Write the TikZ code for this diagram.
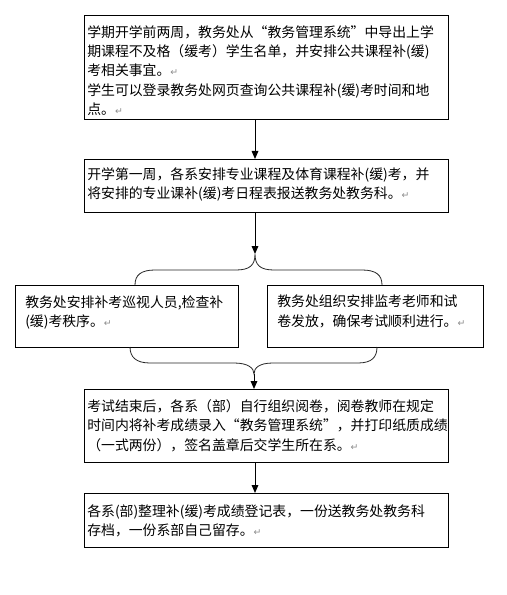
\documentclass[tikz,border=0pt]{standalone}
\usepackage{fontspec}
\usetikzlibrary{arrows.meta}
\newfontfamily\cjk{Noto Sans CJK SC}
\newfontfamily\djv{DejaVu Sans}
\newcommand\pmk{{\djv\fontsize{7}{7}\selectfont\textcolor{black!45}{↵}}}
\begin{document}
\begin{tikzpicture}[x=0.75pt,y=-0.75pt,
  boxn/.style={draw=black,line width=0.75pt,rectangle,inner sep=0pt,anchor=north west},
  txt/.style={anchor=north west,inner sep=0pt,align=left,font=\cjk\fontsize{10.4}{14.6}\selectfont},
  arr/.style={line width=0.75pt,-{Triangle[length=6pt,width=5pt]}},
  brace/.style={line width=0.6pt,draw=black!85}]
\useasboundingbox (0,0) rectangle (506,595);
\fill[white] (0,0) rectangle (506,595);
% boxes
\node[boxn,minimum width=364*0.75pt,minimum height=104*0.75pt] (b1) at (84,15) {};
\node[boxn,minimum width=364*0.75pt,minimum height=53*0.75pt] (b2) at (84,159) {};
\node[boxn,minimum width=223*0.75pt,minimum height=62*0.75pt] (b3) at (15,285) {};
\node[boxn,minimum width=216*0.75pt,minimum height=62*0.75pt] (b4) at (267,285) {};
\node[boxn,minimum width=364*0.75pt,minimum height=73*0.75pt] (b5) at (84,389) {};
\node[boxn,minimum width=364*0.75pt,minimum height=54*0.75pt] (b6) at (84,493) {};
% texts
\node[txt] (t1) at ([shift={(3,10)}]b1.north west) {学期开学前两周，教务处从“教务管理系统”中导出上学\\期课程不及格（缓考）学生名单，并安排公共课程补(缓)\\考相关事宜。\pmk\\学生可以登录教务处网页查询公共课程补(缓)考时间和地\\点。\pmk};
\node[txt] (t2) at ([shift={(3,8)}]b2.north west) {开学第一周，各系安排专业课程及体育课程补(缓)考，并\\将安排的专业课补(缓)考日程表报送教务处教务科。\pmk};
\node[txt] (t3) at ([shift={(10,10)}]b3.north west) {教务处安排补考巡视人员,检查补\\(缓)考秩序。\pmk};
\node[txt] (t4) at ([shift={(10,10)}]b4.north west) {教务处组织安排监考老师和试\\卷发放，确保考试顺利进行。\pmk};
\node[txt] (t5) at ([shift={(3,10)}]b5.north west) {考试结束后，各系（部）自行组织阅卷，阅卷教师在规定\\时间内将补考成绩录入“教务管理系统”，并打印纸质成绩\\（一式两份），签名盖章后交学生所在系。\pmk};
\node[txt] (t6) at ([shift={(3,11)}]b6.north west) {各系(部)整理补(缓)考成绩登记表，一份送教务处教务科\\存档，一份系部自己留存。\pmk};
% brace points
\coordinate (tp) at (255,254);
\coordinate (bp) at (254,374);
% connectors
\draw[arr] (b1.south -| 255,0) -- (b2.north -| 255,0);
\draw[arr] (b2.south -| tp) -- (tp);
\draw[arr] (bp) -- (b5.north -| bp);
\draw[arr] (b5.south -| 255,0) -- (b6.north -| 255,0);
% top brace
\draw[brace] (135,285) .. controls (135,275) and (141,270) .. (155,270) -- (236,270) .. controls (250,270) and (255,265) .. (tp)
  .. controls (255,265) and (260,270) .. (274,270) -- (362,270) .. controls (376,270) and (382,275) .. (382,285);
% bottom brace
\draw[brace] (130,347) .. controls (130,357) and (136,363) .. (150,363) -- (234,363) .. controls (248,363) and (254,368) .. (bp)
  .. controls (254,368) and (259,363) .. (273,363) -- (358,363) .. controls (372,363) and (377,357) .. (377,347);
\end{tikzpicture}
\end{document}
